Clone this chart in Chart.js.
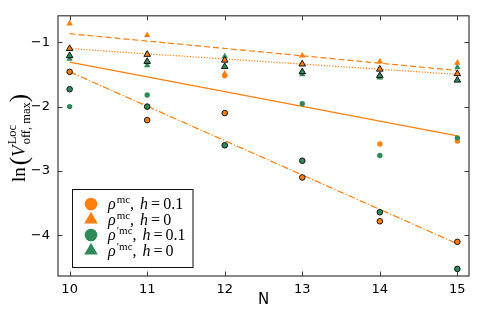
<!DOCTYPE html>
<html>
<head>
<meta charset="utf-8">
<script src="https://cdn.jsdelivr.net/npm/chart.js@4/dist/chart.umd.min.js"></script>
<style>
  html, body { margin: 0; padding: 0; background: #fff; }
  #wrap { width: 478px; height: 319px; }
</style>
</head>
<body>
<div id="wrap"><canvas id="chart"></canvas></div>
<script>
/* ── data ─────────────────────────────────────────────── */
const N_VALUES = [10, 11, 12, 13, 14, 15];
const X_TICKS  = [10, 11, 12, 13, 14, 15];
const Y_TICKS  = [-1, -2, -3, -4];

// plain markers (in legend) and black-edged markers
const RHO_H01       = [null, null, -1.52, null, -2.58, -2.535];
const RHO_H01_EDGE  = [-1.46, -2.21, -2.10, -3.10, -3.78, -4.10];
const RHO_H0        = [-0.71, -0.89, -1.49, -1.21, -1.30, -1.32];
const RHO_H0_EDGE   = [-1.10, -1.19, -1.28, -1.34, -1.42, -1.49];
const RHOP_H01      = [-2.00, -1.82, null, -1.955, -2.76, -2.485];
const RHOP_H01_EDGE = [-1.73, -2.00, -2.60, -2.84, -3.64, -4.52];
const RHOP_H0       = [-1.26, -1.36, -1.22, -1.50, -1.55, -1.39];
const RHOP_H0_EDGE  = [-1.21, -1.30, -1.38, -1.46, -1.52, -1.59];

// fit lines, values at the two ends
const FIT_N        = [10, 15];
const FIT_H0       = [-0.868, -1.44];
const FIT_H0_EDGE  = [-1.10, -1.50];
const FIT_H01      = [-1.31, -2.455];
const FIT_H01_EDGE = [-1.46, -4.13];

const ORANGE = '#ff7f0e';
const GREEN  = '#2e8b57';
const FRAME  = '#3a3a3a';

const pts = (xs, ys) => xs.map((x, i) => ({ x, y: ys[i] })).filter(p => p.y != null);

function markers(ys, color, style, edged, radius, order) {
  return {
    data: pts(N_VALUES, ys),
    showLine: false,
    pointStyle: style,
    pointRadius: radius,
    pointHoverRadius: radius,
    backgroundColor: color,
    pointBackgroundColor: color,
    pointBorderColor: edged ? '#111' : color,
    pointBorderWidth: edged ? 1 : 0,
    order,
  };
}

function fitLine(ys, dash) {
  return {
    data: pts(FIT_N, ys),
    showLine: true,
    borderColor: ORANGE,
    borderWidth: 1.2,
    borderDash: dash,
    pointRadius: 0,
    pointHoverRadius: 0,
    order: 20,
  };
}

/* ── frame, inward ticks, titles, legend ─────────────── */
const decor = {
  id: 'decor',
  afterDatasetsDraw(chart) {
    const { ctx, chartArea: a, scales: { x, y } } = chart;
    ctx.save();
    ctx.strokeStyle = FRAME;
    ctx.lineWidth = 1;
    const TL = 4.5;
    ctx.beginPath();
    X_TICKS.forEach(v => {
      const px = Math.round(x.getPixelForValue(v)) + 0.5;
      ctx.moveTo(px, a.bottom); ctx.lineTo(px, a.bottom - TL);
      ctx.moveTo(px, a.top);    ctx.lineTo(px, a.top + TL);
    });
    Y_TICKS.forEach(v => {
      const py = Math.round(y.getPixelForValue(v)) + 0.5;
      ctx.moveTo(a.left, py);  ctx.lineTo(a.left + TL, py);
      ctx.moveTo(a.right, py); ctx.lineTo(a.right - TL, py);
    });
    ctx.stroke();
    ctx.lineWidth = 1.2;
    ctx.strokeRect(a.left, a.top, a.right - a.left, a.bottom - a.top);

    // x title
    ctx.fillStyle = '#000';
    ctx.font = '15px "DejaVu Sans"';
    ctx.textAlign = 'center';
    ctx.textBaseline = 'alphabetic';
    ctx.fillText('N', (a.left + a.right) / 2, 304);

    drawYTitle(ctx, 25, 138);
    drawLegend(ctx);
    ctx.restore();
  }
};

function drawYTitle(ctx, bx, cy) {
  const SERIF = '"Liberation Serif"';
  const main  = '19px ' + SERIF;
  const big   = '25px ' + SERIF;
  const ital  = 'italic 19px ' + SERIF;
  const small = '12.5px ' + SERIF;
  ctx.save();
  ctx.textAlign = 'left';
  ctx.textBaseline = 'alphabetic';
  const w = (t, f) => { ctx.font = f; return ctx.measureText(t).width; };
  const supW = Math.max(w('Loc', small), w('off, max', small));
  const total = w('ln', main) + 2 + w('(', big) + w('V', ital) + 1 + supW + w(')', big);
  ctx.translate(bx, cy);
  ctx.rotate(-Math.PI / 2);
  let cx = -total / 2;
  ctx.font = main; ctx.fillText('ln', cx, 0); cx += w('ln', main) + 2;
  ctx.font = big;  ctx.fillText('(', cx, 2); cx += w('(', big);
  ctx.font = ital; ctx.fillText('V', cx, 0); cx += w('V', ital) + 1;
  ctx.font = small;
  ctx.fillText('Loc', cx, -9);
  ctx.fillText('off, max', cx, 5);
  cx += supW;
  ctx.font = big;  ctx.fillText(')', cx, 2);
  ctx.restore();
}

const LEGEND_ROWS = [
  { shape: 'circle',   color: ORANGE, sup: 'mc',  h: '0.1' },
  { shape: 'triangle', color: ORANGE, sup: 'mc',  h: '0' },
  { shape: 'circle',   color: GREEN,  sup: '\u2032mc', h: '0.1' },
  { shape: 'triangle', color: GREEN,  sup: '\u2032mc', h: '0' },
];

function drawLegend(ctx) {
  const box = { l: 72, t: 189, r: 192.5, b: 267 };
  ctx.save();
  ctx.fillStyle = '#fff';
  ctx.fillRect(box.l, box.t, box.r - box.l, box.b - box.t);
  ctx.strokeStyle = '#111';
  ctx.lineWidth = 1;
  ctx.strokeRect(box.l + 0.5, box.t + 0.5, box.r - box.l, box.b - box.t);

  const SERIF = '"Liberation Serif"';
  const rowY = [204, 219.5, 235, 250.5];
  ctx.textAlign = 'left';
  ctx.textBaseline = 'alphabetic';
  LEGEND_ROWS.forEach((row, i) => {
    const cy = rowY[i];
    const mx = 91;
    ctx.fillStyle = row.color;
    ctx.beginPath();
    if (row.shape === 'circle') {
      ctx.arc(mx, cy, 6.3, 0, Math.PI * 2);
    } else {
      const r = 7.8;
      ctx.moveTo(mx, cy - r);
      ctx.lineTo(mx + r * 0.866, cy + r * 0.5);
      ctx.lineTo(mx - r * 0.866, cy + r * 0.5);
      ctx.closePath();
    }
    ctx.fill();

    ctx.fillStyle = '#000';
    const base = cy + 5;
    let cx = 108;
    const put = (t, f, dy = 0) => { ctx.font = f; ctx.fillText(t, cx, base + dy); cx += ctx.measureText(t).width; };
    put('\u03c1', 'italic 16px ' + SERIF);
    cx += 1;
    put(row.sup, '11px ' + SERIF, -6);
    put(',', '16px ' + SERIF);
    cx += 6;
    put('h', 'italic 16px ' + SERIF);
    cx += 3;
    put('=', '16px ' + SERIF);
    cx += 3;
    put(row.h, '16px ' + SERIF);
  });
  ctx.restore();
}

/* ── chart ────────────────────────────────────────────── */
const chart = new Chart(document.getElementById('chart'), {
  type: 'scatter',
  data: {
    datasets: [
      markers(RHOP_H01_EDGE, GREEN,  'circle',   true,  2.8, 1),
      markers(RHO_H01_EDGE,  ORANGE, 'circle',   true,  2.8, 2),
      markers(RHOP_H0_EDGE,  GREEN,  'triangle', true,  3.8, 3),
      markers(RHO_H0_EDGE,   ORANGE, 'triangle', true,  3.8, 4),
      markers(RHOP_H01,      GREEN,  'circle',   false, 2.7, 5),
      markers(RHO_H01,       ORANGE, 'circle',   false, 2.7, 6),
      markers(RHOP_H0,       GREEN,  'triangle', false, 3.7, 7),
      markers(RHO_H0,        ORANGE, 'triangle', false, 3.7, 8),
      fitLine(FIT_H0,       [6, 3]),
      fitLine(FIT_H0_EDGE,  [1.2, 1.6]),
      fitLine(FIT_H01,      []),
      fitLine(FIT_H01_EDGE, [7, 2, 1.2, 2]),
    ],
  },
  options: {
    responsive: true,
    maintainAspectRatio: false,
    animation: false,
    events: [],
    layout: { padding: { top: 9, right: 9, left: 0, bottom: 0 } },
    plugins: { legend: { display: false }, tooltip: { enabled: false } },
    scales: {
      x: {
        type: 'linear',
        min: 9.85,
        max: 15.15,
        grid: { display: false, drawTicks: false },
        border: { display: false },
        afterBuildTicks: s => { s.ticks = X_TICKS.map(v => ({ value: v })); },
        afterFit: s => { s.height = 43; },
        ticks: {
          padding: 6,
          color: '#000',
          font: { family: 'DejaVu Sans', size: 13 },
          callback: v => String(v),
        },
      },
      y: {
        type: 'linear',
        min: -4.63,
        max: -0.59,
        grid: { display: false, drawTicks: false },
        border: { display: false },
        afterBuildTicks: s => { s.ticks = Y_TICKS.map(v => ({ value: v })); },
        afterFit: s => { s.width = 58; },
        ticks: {
          padding: 8,
          color: '#000',
          font: { family: 'DejaVu Sans', size: 13 },
          callback: v => String(v).replace('-', '\u2212'),
        },
      },
    },
  },
  plugins: [decor],
});
</script>
</body>
</html>
